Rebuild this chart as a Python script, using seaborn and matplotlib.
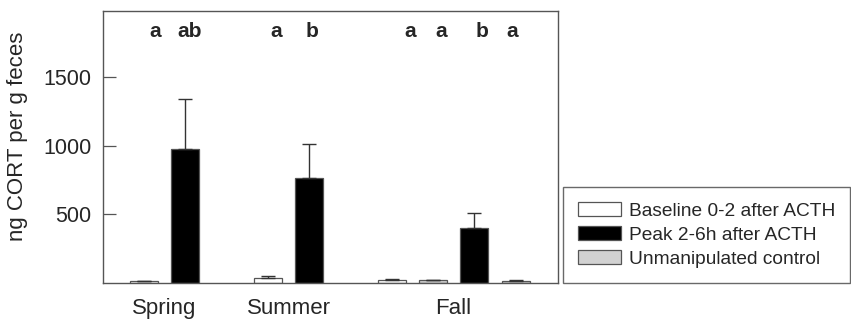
import numpy as np
import pandas as pd
import matplotlib
matplotlib.use("Agg")
import matplotlib.pyplot as plt
import seaborn as sns

# ---- data ----
bar_ids = ["Sp-1", "Sp-2", "Su-1", "Su-2", "Fa-1", "Fa-2", "Fa-3", "Fa-4"]
groups = ["Baseline 0-2 after ACTH", "Peak 2-6h after ACTH",
          "Baseline 0-2 after ACTH", "Peak 2-6h after ACTH",
          "Baseline 0-2 after ACTH", "Unmanipulated control",
          "Peak 2-6h after ACTH", "Unmanipulated control"]
means = [12, 976, 36, 767, 23, 19, 402, 16]
sems = [4, 362, 14, 243, 4, 5, 110, 3]
seasons = ["Spring", "Summer", "Fall"]
letters = ["a", "ab", "a", "b", "a", "a", "b", "a"]
yticks = [500, 1000, 1500]
hue_order = ["Baseline 0-2 after ACTH", "Peak 2-6h after ACTH", "Unmanipulated control"]

# ---- layout ----
order = ["Sp-1", "Sp-2", "gap1", "Su-1", "Su-2", "gap2", "Fa-1", "Fa-2", "Fa-3", "Fa-4"]
season_pos = [0.5, 3.5, 7.5]
letter_pos = [0.27, 1.11, 3.19, 4.06, 6.44, 7.19, 8.18, 8.91]

sns.set_style("white")
plt.rcParams["font.family"] = ["Liberation Sans", "DejaVu Sans"]

W, H = 851, 322
fig = plt.figure(figsize=(W / 100, H / 100), dpi=100)
ax_l, ax_r, ax_t, ax_b = 102.7, 557.7, 10.7, 282.8
ax = fig.add_axes([ax_l / W, 1 - ax_b / H, (ax_r - ax_l) / W, (ax_b - ax_t) / H])

df = pd.DataFrame({"bar": bar_ids, "group": groups, "mean": means})
palette = {"Baseline 0-2 after ACTH": "#ffffff",
           "Peak 2-6h after ACTH": "#000000",
           "Unmanipulated control": "#d2d2d2"}
sns.barplot(data=df, x="bar", y="mean", hue="group", order=order,
            hue_order=hue_order, palette=palette, dodge=False, width=0.68,
            errorbar=None, edgecolor="#555555", linewidth=0.9, ax=ax,
            saturation=1)

xpos = [order.index(b) for b in bar_ids]
ax.errorbar(xpos, means, yerr=[np.zeros(len(sems)), sems], fmt="none",
            ecolor="#333333", elinewidth=1.0, capsize=4.7, capthick=1.0, zorder=5)

for lx, lt in zip(letter_pos, letters):
    ax.text(lx, 1836, lt, ha="center", va="center", fontsize=15, fontweight="bold")

ax.set_xlim(-1.0, 10.02)
ax.set_ylim(0, 1986)
ax.set_yticks(yticks)
ax.set_yticklabels([str(v) for v in yticks])
ax.set_xticks(season_pos)
ax.set_xticklabels(seasons)
ax.tick_params(axis="y", direction="in", length=9, width=0.9, color="#555555",
               labelsize=15.5, pad=8, left=True)
ax.tick_params(axis="x", length=0, labelsize=16, pad=11)
ax.set_xlabel("")
ax.set_ylabel("ng CORT per g feces", fontsize=16)
ax.yaxis.set_label_coords((28.5 - ax_l) / (ax_r - ax_l), (ax_b - 136.5) / (ax_b - ax_t))
for s in ax.spines.values():
    s.set_color("#555555")
    s.set_linewidth(1.0)

ax.legend(loc="lower left", bbox_to_anchor=(563 / W, 1 - 283 / H),
          bbox_transform=fig.transFigure, frameon=True, fancybox=False,
          edgecolor="#444444", fontsize=13.8, handlelength=2.25, handleheight=0.72,
          labelspacing=0.34, borderpad=0.8, handletextpad=0.38, borderaxespad=0)
leg = ax.get_legend()
leg.get_frame().set_linewidth(1.0)

fig.savefig("out.png", dpi=100)
